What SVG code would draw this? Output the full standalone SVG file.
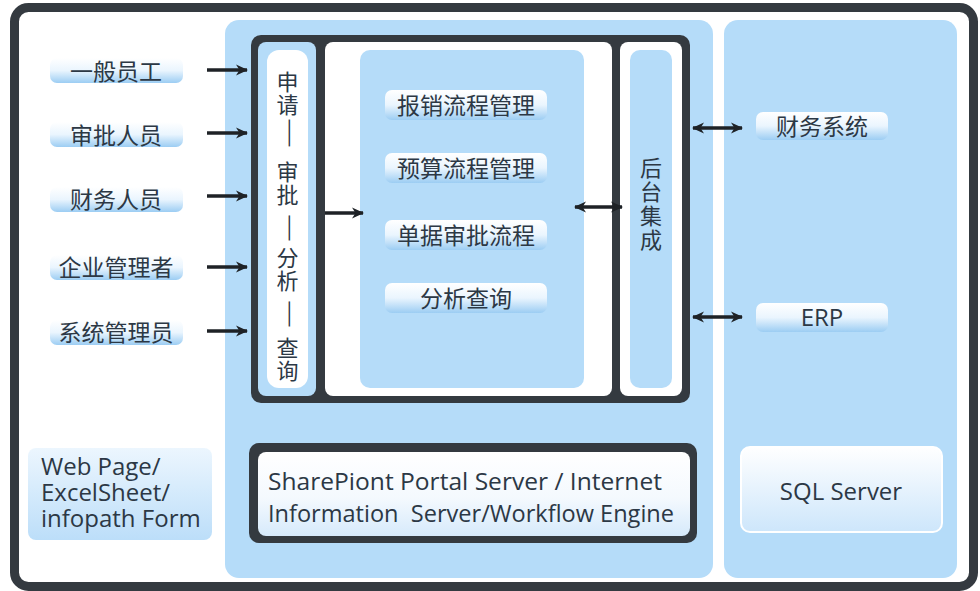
<svg xmlns="http://www.w3.org/2000/svg" width="980" height="591" viewBox="0 0 980 591">
  <style>
    .cn { font-family: "Noto Sans CJK SC", "Noto Sans", sans-serif; font-size: 23px; fill: #2c3845; text-anchor: middle; dominant-baseline: central; }
    .vt { font-size: 22px; }
    .en { font-family: "Open Sans", "Noto Sans", sans-serif; font-size: 24px; fill: #2c3845; }
    .panel { fill: #b5dcf9; }
    .dark { fill: #343a40; }
    .cell { fill: #ffffff; }
    .pill { fill: url(#pillGrad); }
    .conn { stroke: #1e2226; stroke-width: 3.5; fill: none; marker-end: url(#ah); }
    .both { marker-start: url(#ah); }
  </style>
  <defs>
    <linearGradient id="pillGrad" x1="0" y1="0" x2="0" y2="1">
      <stop offset="0" stop-color="#ffffff"/>
      <stop offset="0.5" stop-color="#eaf5fe"/>
      <stop offset="1" stop-color="#9ccdf3"/>
    </linearGradient>
    <linearGradient id="webGrad" x1="0" y1="0" x2="0" y2="1">
      <stop offset="0" stop-color="#ecf6fe"/>
      <stop offset="1" stop-color="#bcdef9"/>
    </linearGradient>
    <linearGradient id="sqlGrad" x1="0" y1="0" x2="0" y2="1">
      <stop offset="0" stop-color="#ffffff"/>
      <stop offset="1" stop-color="#cde6fb"/>
    </linearGradient>
    <linearGradient id="spGrad" x1="0" y1="0" x2="0" y2="1">
      <stop offset="0" stop-color="#ffffff"/>
      <stop offset="0.55" stop-color="#f4f9fe"/>
      <stop offset="1" stop-color="#d6eafb"/>
    </linearGradient>
    <marker id="ah" viewBox="0 0 12 12" refX="11" refY="6" markerWidth="12" markerHeight="12" markerUnits="userSpaceOnUse" orient="auto-start-reverse">
      <path d="M0,0.5 L12,6 L0,11.5 L3.5,6 z" fill="#1e2226"/>
    </marker>
  </defs>

  <!-- outer frame -->
  <rect x="14.5" y="7.5" width="959" height="579" rx="14" fill="#ffffff" stroke="#343a40" stroke-width="9"/>

  <!-- background panels -->
  <rect class="panel" x="225" y="20" width="488" height="558" rx="14"/>
  <rect class="panel" x="724" y="20" width="233" height="558" rx="14"/>

  <!-- process block -->
  <g id="process-block">
    <rect class="dark" x="251" y="35" width="439" height="368" rx="10"/>
    <rect class="panel" x="258" y="42" width="58" height="354" rx="8"/>
    <rect class="cell" x="325" y="42" width="287" height="354" rx="8"/>
    <rect class="cell" x="620" y="42" width="62" height="354" rx="8"/>
  </g>

  <!-- front-end column: 申请—审批—分析—查询 -->
  <g id="frontend">
    <rect class="cell" x="267" y="50" width="41" height="338" rx="12"/>
    <text class="cn vt" x="287.5" y="80">申</text>
    <text class="cn vt" x="287.5" y="103">请</text>
    <text class="cn vt" transform="translate(287.5,133) rotate(90)" y="-5" textLength="30" lengthAdjust="spacingAndGlyphs">—</text>
    <text class="cn vt" x="287.5" y="170">审</text>
    <text class="cn vt" x="287.5" y="193">批</text>
    <text class="cn vt" transform="translate(287.5,228) rotate(90)" y="-5" textLength="28" lengthAdjust="spacingAndGlyphs">—</text>
    <text class="cn vt" x="287.5" y="256">分</text>
    <text class="cn vt" x="287.5" y="279">析</text>
    <text class="cn vt" transform="translate(287.5,314) rotate(90)" y="-5" textLength="28" lengthAdjust="spacingAndGlyphs">—</text>
    <text class="cn vt" x="287.5" y="346">查</text>
    <text class="cn vt" x="287.5" y="369">询</text>
  </g>

  <!-- workflow modules -->
  <g id="workflow">
    <rect class="panel" x="360" y="50" width="224" height="338" rx="10"/>
  </g>
  <g id="m-expense">
    <rect class="pill" x="385" y="90" width="162" height="30" rx="7"/>
    <text class="cn" x="466" y="104">报销流程管理</text>
  </g>
  <g id="m-budget">
    <rect class="pill" x="385" y="153" width="162" height="30" rx="7"/>
    <text class="cn" x="466" y="167">预算流程管理</text>
  </g>
  <g id="m-approval">
    <rect class="pill" x="385" y="220" width="162" height="30" rx="7"/>
    <text class="cn" x="466" y="234">单据审批流程</text>
  </g>
  <g id="m-analysis">
    <rect class="pill" x="385" y="283" width="162" height="30" rx="7"/>
    <text class="cn" x="466" y="297">分析查询</text>
  </g>

  <!-- backend integration -->
  <g id="backend">
    <rect class="panel" x="630" y="50" width="42" height="338" rx="10"/>
    <text class="cn vt" x="651" y="166">后</text>
    <text class="cn vt" x="651" y="190">台</text>
    <text class="cn vt" x="651" y="214">集</text>
    <text class="cn vt" x="651" y="238">成</text>
  </g>

  <!-- user roles -->
  <g id="r-employee">
    <rect class="pill" x="50" y="58" width="133" height="25" rx="7"/>
    <text class="cn" x="116" y="70">一般员工</text>
  </g>
  <g id="r-approver">
    <rect class="pill" x="50" y="122" width="133" height="25" rx="7"/>
    <text class="cn" x="116" y="134">审批人员</text>
  </g>
  <g id="r-finance">
    <rect class="pill" x="50" y="187" width="133" height="25" rx="7"/>
    <text class="cn" x="116" y="198">财务人员</text>
  </g>
  <g id="r-manager">
    <rect class="pill" x="50" y="255" width="133" height="25" rx="7"/>
    <text class="cn" x="116" y="266">企业管理者</text>
  </g>
  <g id="r-admin">
    <rect class="pill" x="50" y="320" width="133" height="25" rx="7"/>
    <text class="cn" x="116" y="331">系统管理员</text>
  </g>

  <!-- external systems -->
  <g id="s-finance">
    <rect class="pill" x="756" y="112" width="132" height="28" rx="7"/>
    <text class="cn" x="822" y="125">财务系统</text>
  </g>
  <g id="s-erp">
    <rect class="pill" x="756" y="303" width="132" height="29" rx="7"/>
    <text class="en" x="822" y="326" text-anchor="middle">ERP</text>
  </g>

  <!-- client forms -->
  <g id="client-forms">
    <rect x="28" y="448" width="184" height="92" rx="8" fill="url(#webGrad)"/>
    <text class="en" x="41" y="475">Web Page/</text>
    <text class="en" x="41" y="501">ExcelSheet/</text>
    <text class="en" x="41" y="527">infopath Form</text>
  </g>

  <!-- platform -->
  <g id="platform">
    <rect class="dark" x="249" y="443" width="448" height="100" rx="10"/>
    <rect x="258" y="452" width="432" height="84" rx="8" fill="url(#spGrad)"/>
    <text class="en" x="268" y="490" textLength="394" lengthAdjust="spacingAndGlyphs">SharePiont Portal Server / Internet</text>
    <text class="en" x="268" y="522" xml:space="preserve" textLength="406" lengthAdjust="spacingAndGlyphs">Information  Server/Workflow Engine</text>
  </g>

  <!-- database -->
  <g id="database">
    <rect x="741" y="447" width="201" height="85" rx="9" fill="url(#sqlGrad)" stroke="#ffffff" stroke-width="2"/>
    <text class="en" x="841" y="500" text-anchor="middle">SQL Server</text>
  </g>

  <!-- connectors -->
  <g id="connectors">
    <line class="conn" x1="207" y1="70" x2="247" y2="70"/>
    <line class="conn" x1="207" y1="133" x2="247" y2="133"/>
    <line class="conn" x1="207" y1="196" x2="247" y2="196"/>
    <line class="conn" x1="207" y1="267" x2="247" y2="267"/>
    <line class="conn" x1="207" y1="331" x2="247" y2="331"/>
    <line class="conn" x1="325" y1="213" x2="363" y2="213"/>
    <line class="conn both" x1="575" y1="207" x2="622" y2="207"/>
    <line class="conn both" x1="693" y1="128" x2="742" y2="128"/>
    <line class="conn both" x1="693" y1="317" x2="742" y2="317"/>
  </g>
</svg>
